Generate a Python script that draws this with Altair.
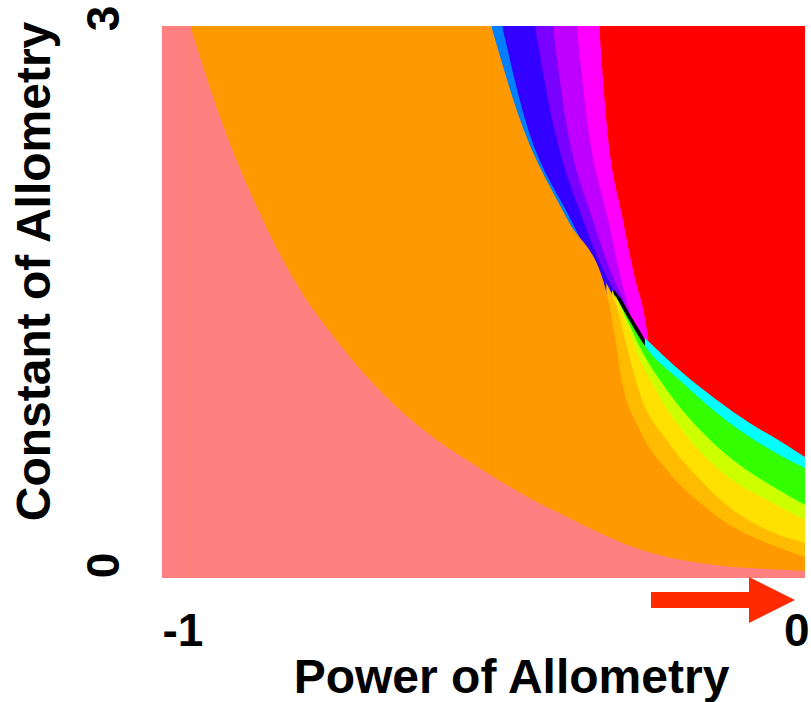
import altair as alt
import pandas as pd

FONT = "Liberation Sans"

x_domain = [-1, 0]
y_domain = [0, 3]
x_tick_values = [-1, 0]
y_tick_values = [0, 3]
x_title = "Power of Allometry"
y_title = "Constant of Allometry"

# Upper edge of each coloured region (power x -> constant y).
magenta_x = [-0.320, -0.309, -0.283, -0.261, -0.253, -0.244]
magenta_y = [3.0, 2.489, 1.946, 1.582, 1.484, 1.310]

violet_x = [-0.355, -0.339, -0.306, -0.283, -0.272]
violet_y = [3.0, 2.489, 1.946, 1.582, 1.446]

indigo_x = [-0.392, -0.372, -0.330, -0.292, -0.281]
indigo_y = [3.0, 2.489, 1.946, 1.582, 1.500]

blue_x = [-0.420, -0.393, -0.345, -0.300, -0.289]
blue_y = [3.0, 2.489, 1.946, 1.582, 1.522]

lightblue_x = [-0.471, -0.435, -0.364, -0.313]
lightblue_y = [3.0, 2.489, 1.946, 1.598]

black_x = [-0.297, -0.285, -0.269, -0.253, -0.246]
black_y = [1.565, 1.511, 1.413, 1.321, 1.277]

cyan_x = [-0.249, -0.190, -0.137, -0.086, -0.034, 0.0]
cyan_y = [1.304, 1.114, 0.967, 0.842, 0.734, 0.658]

green_x = [-0.291, -0.269, -0.252, -0.190, -0.137, -0.086, -0.034, 0.0]
green_y = [1.511, 1.375, 1.277, 1.060, 0.897, 0.766, 0.658, 0.598]

yg_x = [-0.295, -0.275, -0.257, -0.215, -0.163, -0.112, -0.059, 0.0]
yg_y = [1.538, 1.391, 1.255, 1.022, 0.804, 0.641, 0.516, 0.397]

yellow_x = [-0.300, -0.280, -0.261, -0.226, -0.179, -0.128, -0.059, 0.0]
yellow_y = [1.565, 1.402, 1.223, 0.984, 0.750, 0.571, 0.424, 0.315]

gold_x = [-0.309, -0.294, -0.277, -0.255, -0.215, -0.163, -0.112, -0.059, 0.0]
gold_y = [1.603, 1.484, 1.255, 0.984, 0.750, 0.533, 0.370, 0.261, 0.190]

orange_x = [-0.488, -0.443, -0.369, -0.311, -0.297, -0.285, -0.257, -0.215, -0.163, -0.112, -0.059, 0.0]
orange_y = [3.0, 2.489, 1.946, 1.582, 1.348, 1.076, 0.804, 0.587, 0.408, 0.277, 0.190, 0.114]

pink_x = [-0.956, -0.908, -0.843, -0.785, -0.729, -0.681, -0.630, -0.579, -0.526, -0.477,
          -0.423, -0.370, -0.319, -0.267, -0.215, -0.163, -0.112, -0.059, 0.0]
pink_y = [3.0, 2.489, 1.946, 1.565, 1.293, 1.092, 0.913, 0.766, 0.641, 0.533,
          0.424, 0.332, 0.245, 0.168, 0.114, 0.082, 0.060, 0.049, 0.038]

# arrow annotation below the axis (pointing towards power 0)
arrow_x = [-0.2395, -0.070]
arrow_head_x = [-0.0513]
arrow_y = [-0.12]

# painting order: topmost region first, lowest region last
bands = [
    ("#FF00FF", magenta_x, magenta_y, True),
    ("#BF00FF", violet_x, violet_y, True),
    ("#7A00FF", indigo_x, indigo_y, True),
    ("#3300FF", blue_x, blue_y, True),
    ("#0080FF", lightblue_x, lightblue_y, True),
    ("#000000", black_x, black_y, False),
    ("#00FFFF", cyan_x, cyan_y, False),
    ("#33FF00", green_x, green_y, False),
    ("#CCFF00", yg_x, yg_y, False),
    ("#FFE000", yellow_x, yellow_y, False),
    ("#FFBB00", gold_x, gold_y, False),
    ("#FF9900", orange_x, orange_y, True),
    ("#FF8080", pink_x, pink_y, True),
]

x_scale = alt.Scale(domain=x_domain, nice=False, zero=False)
y_scale = alt.Scale(domain=y_domain, nice=False, zero=False)

x_axis = alt.Axis(
    values=x_tick_values, format="d",
    labelExpr="replace(datum.label, '\u2212', '-')",
    labelFlush=True,
    labelOffset={"condition": {"test": "datum.value == 0", "value": 4}, "value": 0},
    labelBaseline="alphabetic", labelPadding=67,
    labelFont=FONT, labelFontSize=46, labelFontWeight="bold", labelColor="black",
    domain=False, ticks=False, grid=False,
    titleFont=FONT, titleFontSize=48, titleFontWeight="bold", titleColor="black",
    titleX=349, titleY=114, titleAlign="center", titleBaseline="alphabetic",
)
y_axis = alt.Axis(
    values=y_tick_values, format="d",
    labelAngle=270, labelAlign="center", labelBaseline="alphabetic", labelPadding=44,
    labelOffset={"condition": {"test": "datum.value == 0", "value": -13}, "value": -8},
    labelFont=FONT, labelFontSize=46, labelFontWeight="bold", labelColor="black",
    domain=False, ticks=False, grid=False,
    titleFont=FONT, titleFontSize=48, titleFontWeight="bold", titleColor="black",
    titleAngle=270, titleX=-113, titleY=245, titleAlign="center", titleBaseline="alphabetic",
)


def X(field="x"):
    return alt.X(f"{field}:Q", scale=x_scale, axis=x_axis, title=x_title)


def Y(field="y"):
    return alt.Y(f"{field}:Q", scale=y_scale, axis=y_axis, title=y_title)


layers = []
# background region (red)
bg = pd.DataFrame({"x": [x_domain[0]], "x2": [x_domain[1]], "y": [y_domain[0]], "y2": [y_domain[1]]})
layers.append(alt.Chart(bg).mark_rect(color="#FF0000").encode(x=X(), x2="x2:Q", y=Y(), y2="y2:Q"))

EPS = 0.0008
for color, xs, ys, reaches_top in bands:
    if reaches_top:
        r = pd.DataFrame({"x": [x_domain[0]], "x2": [xs[0] + EPS], "y": [y_domain[0]], "y2": [y_domain[1]]})
        layers.append(alt.Chart(r).mark_rect(color=color).encode(x=X(), x2="x2:Q", y=Y(), y2="y2:Q"))
    d = pd.DataFrame({"x": xs, "y": ys, "base": [0.0] * len(xs)})
    layers.append(
        alt.Chart(d).mark_area(color=color, interpolate="monotone", clip=True, opacity=1)
        .encode(x=X(), y=Y(), y2="base:Q")
    )

ARROW = "#FF2A00"
shaft = pd.DataFrame({"x": [arrow_x[0]], "x2": [arrow_x[1]], "y": arrow_y})
layers.append(alt.Chart(shaft).mark_rule(color=ARROW, strokeWidth=16).encode(x=X(), x2="x2:Q", y=Y()))
head = pd.DataFrame({"x": arrow_head_x, "y": arrow_y})
layers.append(
    alt.Chart(head).mark_point(shape="M-1,-1L1,0L-1,1Z", size=2116, filled=True, color=ARROW,
                               opacity=1, strokeWidth=0)
    .encode(x=X(), y=Y())
)

chart = alt.layer(*layers).properties(
    width=643, height=552,
    autosize=alt.AutoSizeParams(type="none"),
    padding={"left": 162, "top": 26, "right": 6, "bottom": 124},
    background="white",
).configure_view(stroke=None)

chart.save("out.html", embed_options={"renderer": "svg", "actions": False})
